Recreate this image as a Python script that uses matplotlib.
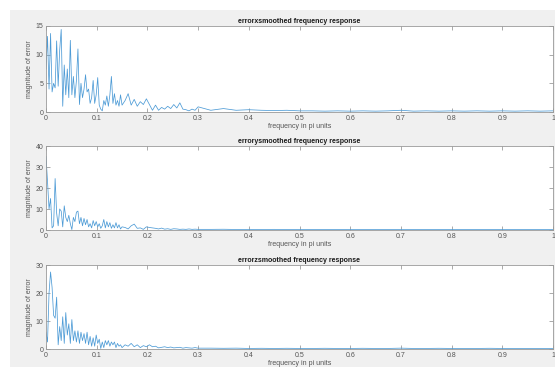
import numpy as np
import matplotlib
matplotlib.use("Agg")
import matplotlib.pyplot as plt
from matplotlib.patches import Rectangle

# frequency grid (pi units): dense low band, medium band, sparse tail
freq_low = np.round(np.arange(0, 0.1501, 0.003), 4)
freq_mid = np.round(np.arange(0.156, 0.3001, 0.006), 4)
freq_tail = np.round(np.arange(0.325, 1.0001, 0.025), 4)
freq = np.concatenate([freq_low, freq_mid, freq_tail])

mag_x_low = [7.5, 13.2, 4, 13.7, 3.5, 5, 4.2, 12.4, 4.5, 10.8, 14.4, 1.0, 8.2, 3, 7.5, 2.5,
             12.5, 3, 6.2, 2.5, 5.5, 11, 1.3, 5, 2.5, 4, 6.5, 3.5, 4, 1.5, 2.5, 5.5, 1.5,
             3, 6, 1.2, 0.5, 0.2, 2, 1.2, 2.8, 1.0, 3, 6.2, 1.5, 3.2, 1.2, 2.0, 1, 3, 1.2]
mag_x_mid = [2.0, 3.2, 1.2, 2.2, 1.0, 1.8, 1.3, 2.3, 1.3, 0.3, 1.2, 0.3, 0.8, 0.5, 1.0,
             0.6, 1.3, 0.7, 1.6, 0.5, 0.4, 0.2, 0.5, 0.3, 0.9]
mag_x_tail = [0.3, 0.6, 0.3, 0.4, 0.3, 0.25, 0.3, 0.2, 0.2, 0.15, 0.2, 0.15, 0.2, 0.15,
              0.2, 0.3, 0.15, 0.2, 0.15, 0.2, 0.15, 0.2, 0.15, 0.2, 0.15, 0.2, 0.15, 0.2]

mag_y_low = [35, 23, 10, 15, 1, 2, 24.5, 8, 2, 10, 9, 1.5, 11.5, 6, 4, 7, 3, 0.2, 6, 4,
             8.5, 9, 3, 6, 2, 5.5, 2.5, 5, 1.5, 3, 1, 4.5, 2, 4, 1.5, 3, 0.8, 2, 5, 1, 4,
             1.5, 3.5, 0.8, 2.5, 1, 3.5, 1, 2.5, 0.5, 1.5]
mag_y_mid = [1.2, 0.5, 2.0, 2.8, 0.8, 1.0, 0.3, 1.5, 1.2, 1.0, 0.8, 0.5, 0.9, 0.4, 0.6,
             0.3, 0.6, 0.5, 0.3, 0.4, 0.3, 0.5, 0.3, 0.4, 0.3]
mag_y_tail = [0.3, 0.35, 0.25, 0.3, 0.25, 0.3, 0.2, 0.25, 0.2, 0.25, 0.2, 0.25, 0.2, 0.2,
              0.25, 0.2, 0.2, 0.25, 0.2, 0.2, 0.25, 0.2, 0.2, 0.25, 0.2, 0.2, 0.2, 0.2]

mag_z_low = [6, 2.5, 20, 27.5, 22, 12, 11, 18.5, 1.5, 8, 3, 11.5, 2, 13, 5, 9, 2, 10.5,
             3, 6.5, 2.5, 6.5, 2, 6, 3, 5.5, 2, 6, 1.5, 4.5, 1, 4, 1, 5, 2, 3.5, 0.2,
             2.5, 0.5, 3, 1.5, 3, 1, 2.5, 1.5, 2.5, 0.5, 2, 1, 1.5, 0.5]
mag_z_mid = [1.5, 1.0, 2.0, 0.8, 1.5, 0.5, 1.2, 0.8, 1.5, 0.8, 1.0, 0.4, 0.6, 0.8, 0.5,
             0.7, 0.4, 0.5, 0.6, 0.3, 0.5, 0.4, 0.3, 0.5, 0.3]
mag_z_tail = [0.3, 0.25, 0.3, 0.2, 0.25, 0.2, 0.25, 0.2, 0.2, 0.25, 0.2, 0.2, 0.25, 0.2,
              0.2, 0.3, 0.2, 0.2, 0.25, 0.2, 0.2, 0.2, 0.25, 0.2, 0.2, 0.2, 0.2, 0.2]

titles = ["errorxsmoothed frequency response",
          "errorysmoothed frequency response",
          "errorzsmoothed frequency response"]
ylims = [15, 40, 30]
yticks = [[0, 5, 10, 15], [0, 10, 20, 30, 40], [0, 10, 20, 30]]
xticks = [0, 0.1, 0.2, 0.3, 0.4, 0.5, 0.6, 0.7, 0.8, 0.9, 1]
xticklabels = ["0", "0.1", "0.2", "0.3", "0.4", "0.5", "0.6", "0.7", "0.8", "0.9", "1"]

series = [mag_x_low + mag_x_mid + mag_x_tail,
          mag_y_low + mag_y_mid + mag_y_tail,
          mag_z_low + mag_z_mid + mag_z_tail]

plt.rcParams['font.family'] = ['Liberation Sans', 'DejaVu Sans']

W, H = 555, 367
fig = plt.figure(figsize=(W / 100, H / 100), dpi=100, facecolor="white")
fig.patches.append(Rectangle((10 / W, 0), 1, 1 - 10 / H, transform=fig.transFigure,
                             facecolor="#f0f0f0", edgecolor="none", zorder=-10))

boxes = [(26, 112), (146, 230), (265, 349)]
left, right = 46 / W, 553 / W
tick_col = "#555555"
for i, (top, bot) in enumerate(boxes):
    ax = fig.add_axes([left, 1 - bot / H, right - left, (bot - top) / H])
    ax.set_facecolor("white")
    ax.plot(freq, series[i], color="#4d9bd6", lw=0.55)
    ax.set_xlim(0, 1)
    ax.set_ylim(0, ylims[i])
    ax.set_xticks(xticks)
    ax.set_xticklabels(xticklabels)
    ax.set_yticks(yticks[i])
    ax.tick_params(direction="in", length=3, width=0.5, labelsize=5, colors="#888888",
                   labelcolor=tick_col, top=True, right=True, pad=2)
    for s in ax.spines.values():
        s.set_linewidth(0.6)
        s.set_color("#999999")
    ax.set_title(titles[i], fontsize=5, fontweight="bold", pad=2, color="#1a1a1a")
    ax.set_xlabel("frequency in pi units", fontsize=5, labelpad=1, color=tick_col)
    ax.set_ylabel("magnitude of error", fontsize=5, labelpad=1.5, color=tick_col)

fig.savefig("out.png", dpi=100)
